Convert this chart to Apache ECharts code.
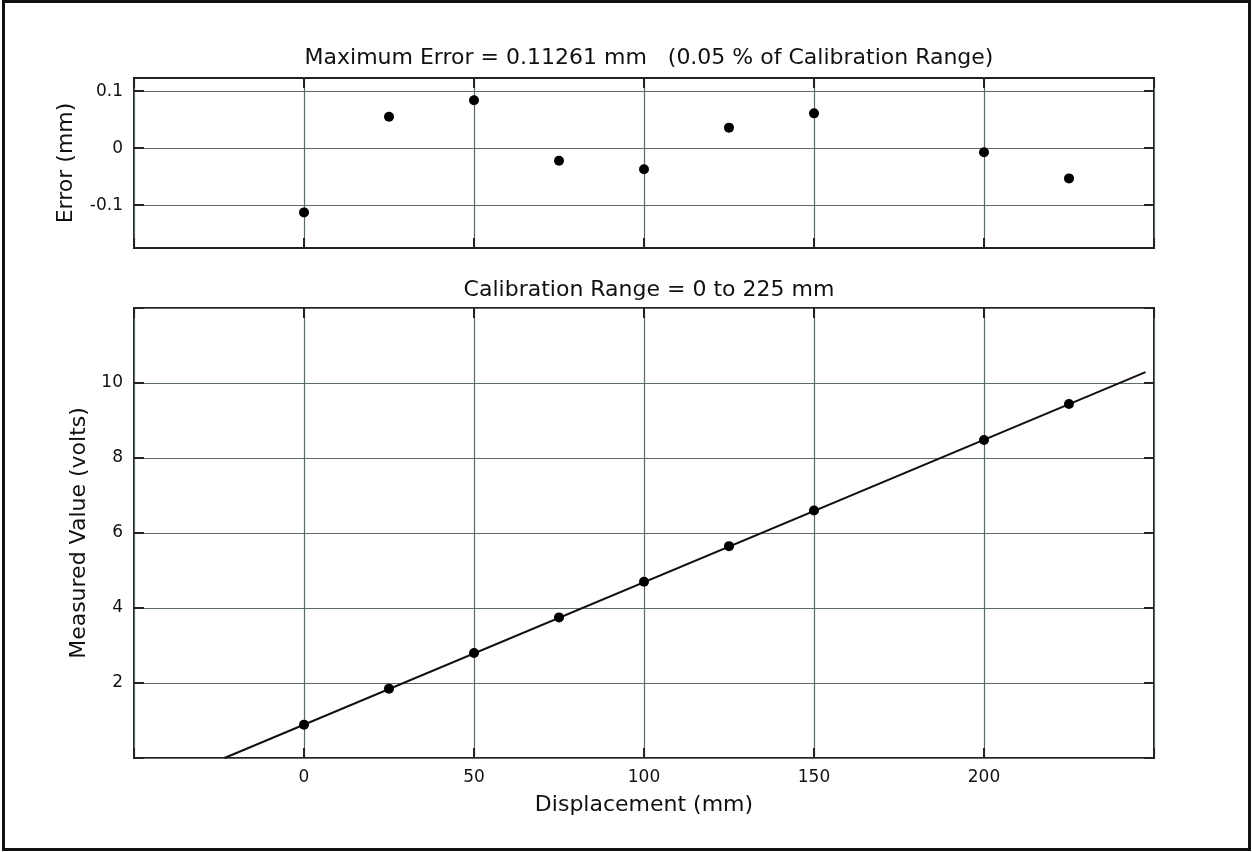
<!DOCTYPE html>
<html>
<head>
<meta charset="utf-8">
<title>Calibration</title>
<script src="https://cdn.jsdelivr.net/npm/echarts@6/dist/echarts.min.js"></script>
<style>
  html, body { margin: 0; padding: 0; background: #fff; }
  #chart { width: 1252px; height: 852px; }
</style>
</head>
<body>
<div id="chart"></div>
<script>
// Calibration points (mm)
const displacement = [0, 25, 50, 75, 100, 125, 150, 200, 225];
// Error of each point relative to the linear fit (mm)
const errorMm = [-0.11261, 0.055, 0.084, -0.022, -0.037, 0.036, 0.061, -0.007, -0.053];
// Measured output (volts)
const measuredVolts = [0.89, 1.85, 2.80, 3.75, 4.70, 5.65, 6.60, 8.48, 9.44];
// Fitted line end points
const fitX = [-23.4, 247.5];
const fitY = [0.0, 10.29];
// Tick values
const xTicks = [0, 50, 100, 150, 200];
const errTicks = [-0.1, 0, 0.1];
const voltTicks = [2, 4, 6, 8, 10];

const FONT = 'DejaVu Sans';
const gridColor = '#5b6b6b';
const tickColor = '#222';
const TICK_FS = 17;
const NAME_FS = 22;

function pairs(xs, ys) { return xs.map((x, i) => [x, ys[i]]); }

function xAx(gridIndex, position, labels) {
  return {
    type: 'value', gridIndex, position, min: -50, max: 250, interval: 50,
    axisLine: { show: false, onZero: false },
    axisTick: { show: true, inside: true, length: 10, lineStyle: { color: tickColor, width: 2 } },
    axisLabel: {
      show: labels, margin: 11, fontFamily: FONT, fontSize: TICK_FS, color: '#111',
      formatter: v => (xTicks.includes(v) ? String(v) : '')
    },
    splitLine: { show: position === 'bottom', lineStyle: { color: gridColor, width: 1.2 } }
  };
}

const chart = echarts.init(document.getElementById('chart'), null, { renderer: 'canvas' });

const option = {
  animation: false,
  backgroundColor: '#fff',
  title: [
    {
      text: 'Maximum Error = 0.11261 mm   (0.05 % of Calibration Range)',
      left: 644, top: 42, textAlign: 'center',
      textStyle: { fontFamily: FONT, fontSize: NAME_FS, fontWeight: 'normal', color: '#111' }
    },
    {
      text: 'Calibration Range = 0 to 225 mm',
      left: 644, top: 274, textAlign: 'center',
      textStyle: { fontFamily: FONT, fontSize: NAME_FS, fontWeight: 'normal', color: '#111' }
    }
  ],
  graphic: [
    {
      type: 'rect', silent: true, z: 100,
      shape: { x: 3.5, y: 1.5, width: 1246, height: 848 },
      style: { fill: 'none', stroke: '#111', lineWidth: 3 }
    }
  ],
  grid: [
    { left: 134, top: 78, width: 1020, height: 170, show: true, borderColor: '#222', borderWidth: 2, backgroundColor: 'transparent' },
    { left: 134, top: 308, width: 1020, height: 450, show: true, borderColor: '#222', borderWidth: 2, backgroundColor: 'transparent' }
  ],
  xAxis: [
    xAx(0, 'bottom', false),
    xAx(0, 'top', false),
    Object.assign(xAx(1, 'bottom', true), {
      name: 'Displacement (mm)', nameLocation: 'middle', nameGap: 36,
      nameTextStyle: { fontFamily: FONT, fontSize: NAME_FS, color: '#111' }
    }),
    xAx(1, 'top', false)
  ],
  yAxis: [
    {
      type: 'value', gridIndex: 0, position: 'left', min: -0.175, max: 0.123,
      name: 'Error (mm)', nameLocation: 'middle', nameGap: 57,
      nameTextStyle: { fontFamily: FONT, fontSize: NAME_FS, color: '#111' },
      axisLine: { show: false, onZero: false },
      axisTick: { show: true, inside: true, length: 10, customValues: errTicks, lineStyle: { color: tickColor, width: 2 } },
      axisLabel: { show: true, margin: 11, customValues: errTicks, fontFamily: FONT, fontSize: TICK_FS, color: '#111',
        formatter: v => (Math.abs(v) < 1e-9 ? '0' : String(Math.round(v * 10) / 10)) },
      splitLine: { show: true, lineStyle: { color: gridColor, width: 1.2 } }
    },
    {
      type: 'value', gridIndex: 0, position: 'right', min: -0.175, max: 0.123,
      axisLine: { show: false, onZero: false },
      axisTick: { show: true, inside: true, length: 10, customValues: errTicks, lineStyle: { color: tickColor, width: 2 } },
      axisLabel: { show: false },
      splitLine: { show: false }
    },
    {
      type: 'value', gridIndex: 1, position: 'left', min: 0, max: 12, interval: 2,
      name: 'Measured Value (volts)', nameLocation: 'middle', nameGap: 42,
      nameTextStyle: { fontFamily: FONT, fontSize: NAME_FS, color: '#111' },
      axisLine: { show: false, onZero: false },
      axisTick: { show: true, inside: true, length: 10, lineStyle: { color: tickColor, width: 2 } },
      axisLabel: { show: true, margin: 11, fontFamily: FONT, fontSize: TICK_FS, color: '#111',
        formatter: v => (voltTicks.includes(v) ? String(v) : '') },
      splitLine: { show: true, lineStyle: { color: gridColor, width: 1.2 } }
    },
    {
      type: 'value', gridIndex: 1, position: 'right', min: 0, max: 12, interval: 2,
      axisLine: { show: false, onZero: false },
      axisTick: { show: true, inside: true, length: 10, lineStyle: { color: tickColor, width: 2 } },
      axisLabel: { show: false },
      splitLine: { show: false }
    }
  ],
  series: [
    {
      type: 'scatter', xAxisIndex: 0, yAxisIndex: 0,
      data: pairs(displacement, errorMm),
      symbol: 'circle', symbolSize: 10,
      itemStyle: { color: '#000', opacity: 1 }, z: 5
    },
    {
      type: 'line', xAxisIndex: 2, yAxisIndex: 2,
      data: pairs(fitX, fitY),
      symbol: 'none', clip: true,
      lineStyle: { color: '#111', width: 2 }, z: 4
    },
    {
      type: 'scatter', xAxisIndex: 2, yAxisIndex: 2,
      data: pairs(displacement, measuredVolts),
      symbol: 'circle', symbolSize: 10,
      itemStyle: { color: '#000', opacity: 1 }, z: 5
    }
  ]
};

chart.setOption(option);
</script>
</body>
</html>
